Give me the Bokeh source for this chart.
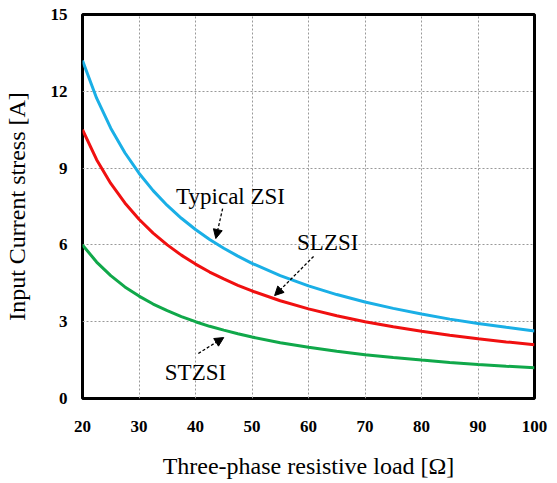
from bokeh.plotting import figure
from bokeh.models import Arrow, NormalHead, Label, FixedTicker, Range1d
from bokeh.embed import file_html
from bokeh.resources import INLINE

load = [20, 22.5, 25, 27.5, 30, 32.5, 35, 37.5, 40, 42.5, 45, 47.5, 50, 55, 60, 65, 70, 75, 80, 85, 90, 95, 100]
typical_zsi = [13.2, 11.73, 10.56, 9.6, 8.8, 8.12, 7.54, 7.04, 6.6, 6.21, 5.87, 5.56, 5.28, 4.8, 4.4, 4.06, 3.77, 3.52, 3.3, 3.1, 2.93, 2.78, 2.64]
slzsi = [10.5, 9.33, 8.4, 7.64, 7.0, 6.46, 6.0, 5.6, 5.25, 4.94, 4.67, 4.42, 4.2, 3.82, 3.5, 3.23, 3.0, 2.8, 2.63, 2.47, 2.33, 2.21, 2.1]
stzsi = [6.0, 5.33, 4.8, 4.36, 4.0, 3.69, 3.43, 3.2, 3.0, 2.82, 2.67, 2.53, 2.4, 2.18, 2.0, 1.85, 1.71, 1.6, 1.5, 1.41, 1.33, 1.26, 1.2]
x_ticks = [20, 30, 40, 50, 60, 70, 80, 90, 100]
y_ticks = [0, 3, 6, 9, 12, 15]

labels = ["Typical ZSI", "SLZSI", "STZSI"]
label_pos = [(46.2, 7.9), (63.4, 6.1), (40.0, 1.0)]
arrows = [((44.8, 7.42), (43.6, 6.25)), ((60.9, 5.55), (54.0, 4.02)), ((40.5, 1.76), (45.0, 2.38))]

FONT = "Liberation Serif"

p = figure(width=557, height=483, output_backend="svg", toolbar_location=None,
           x_range=Range1d(20, 100), y_range=Range1d(0, 15),
           min_border_left=82, min_border_right=23, min_border_top=14, min_border_bottom=85)

p.line(load, typical_zsi, line_color="#1AAFE6", line_width=3)
p.line(load, slzsi, line_color="#F01010", line_width=3)
p.line(load, stzsi, line_color="#10A84A", line_width=3)

for t, (lx, ly) in zip(labels, label_pos):
    p.add_layout(Label(x=lx, y=ly, text=t, text_font=FONT, text_font_size="23px",
                       text_align="center", text_baseline="middle", text_color="black"))

for (s, e) in arrows:
    p.add_layout(Arrow(x_start=s[0], y_start=s[1], x_end=e[0], y_end=e[1],
                       line_color="black", line_width=1.3, line_dash="3 2",
                       end=NormalHead(size=9, fill_color="black", line_color="black")))

p.xaxis.ticker = FixedTicker(ticks=x_ticks)
p.yaxis.ticker = FixedTicker(ticks=y_ticks)
p.xaxis.axis_label = "Three-phase resistive load [Ω]"
p.yaxis.axis_label = "Input Current stress [A]"
for ax in (p.xaxis[0], p.yaxis[0]):
    ax.axis_label_text_font = FONT
    ax.axis_label_text_font_size = "24px"
    ax.axis_label_text_font_style = "normal"
    ax.axis_label_text_color = "black"
    ax.major_label_text_font = FONT
    ax.major_label_text_font_size = "17px"
    ax.major_label_text_font_style = "bold"
    ax.major_label_text_color = "black"
    ax.axis_line_color = None
    ax.major_tick_line_color = None
    ax.minor_tick_line_color = None
p.xaxis.major_label_standoff = 16
p.xaxis.axis_label_standoff = 18
p.yaxis.major_label_standoff = 9
p.yaxis.axis_label_standoff = 18

p.xgrid.grid_line_color = "#999999"
p.ygrid.grid_line_color = "#999999"
p.xgrid.grid_line_dash = "2 2"
p.ygrid.grid_line_dash = "2 2"
p.xgrid.grid_line_width = 1
p.ygrid.grid_line_width = 1

p.outline_line_color = "black"
p.outline_line_width = 3
p.background_fill_color = "white"
p.border_fill_color = "white"

open("out.html", "w").write(file_html(p, INLINE))
